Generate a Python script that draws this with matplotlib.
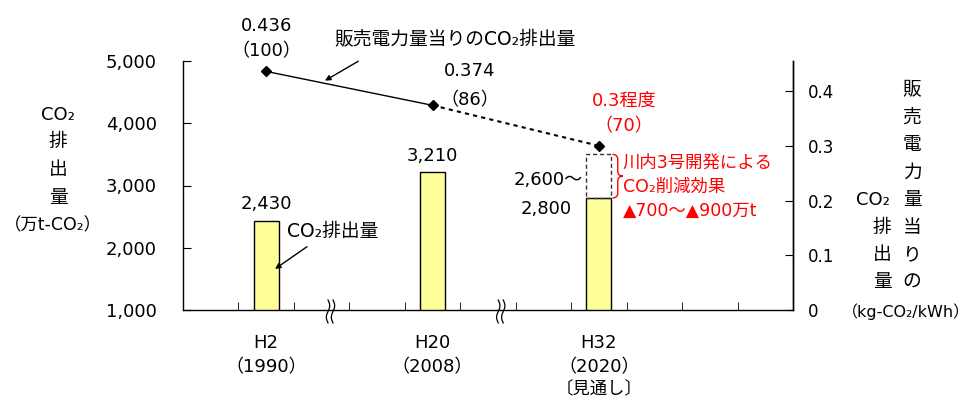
#!/usr/bin/env python3
import numpy as np
import matplotlib
matplotlib.use('Agg')
from matplotlib import pyplot as plt
from matplotlib.path import Path
from matplotlib.patches import PathPatch

# Latin glyphs from DejaVu, kanji/kana fall through to Noto CJK
plt.rcParams['font.family'] = ['DejaVu Sans', 'Noto Sans CJK JP']

# CO2 emissions (10k t) per year slot
slots = [1, 4, 7]
years = ['H2\n（1990）', 'H20\n（2008）', 'H32\n（2020）']
emissions = [2430, 3210, 2800]
proj_low = 2600
cut = [700, 900]  # reduction range from Sendai unit 3

# CO2 per kWh sold
intensity = [0.436, 0.374, 0.3]
index = [100, 86, 70]

left_ticks = [1000, 2000, 3000, 4000, 5000]
right_ticks = [0, 0.1, 0.2, 0.3, 0.4]

W, H = 971, 397


def px(x, y):
    return x / W, 1 - y / H


def main():
    fig = plt.figure(figsize=(W / 100, H / 100), dpi=100)
    ax = fig.add_axes([183 / W, 1 - 310 / H, 610 / W, 249 / H])
    ax2 = ax.twinx()

    ax.set_xlim(-0.5, 10.5)
    ax.set_ylim(1000, 5000)
    ax2.set_ylim(0, 0.455)

    # bars
    bw = 0.45
    ax.bar(slots, emissions, width=bw, color='#FFFF99', edgecolor='black', lw=1, zorder=2)
    ax.bar(slots[2], cut[0], bottom=emissions[2], width=bw, fill=False,
           edgecolor='#333333', ls=(0, (3, 2)), lw=1, zorder=2)

    for s, e in zip(slots[:2], emissions[:2]):
        ax.annotate(f'{e:,}', xy=(s, e), xytext=(0, 12), textcoords='offset points',
                    ha='center', va='center', fontsize=13)
    ax.annotate(f'{proj_low:,}～', xy=(slots[2] - bw / 2, emissions[2]), xytext=(-3, 13),
                textcoords='offset points', ha='right', va='center', fontsize=13)
    ax.annotate(f'{emissions[2]:,}', xy=(slots[2] - bw / 2, emissions[2]), xytext=(-29, -8),
                textcoords='offset points', ha='center', va='center', fontsize=13)

    # red brace next to the dashed box
    x0 = slots[2] + bw / 2 + 0.02
    x1 = x0 + 0.19
    xm = (x0 + x1) / 2
    top, bot = emissions[2] + cut[0], emissions[2]
    mid = (top + bot) / 2
    q = (top - bot) * 0.12
    verts = [(x0, top), (xm, top), (xm, top - q), (xm, mid + q), (xm, mid), (x1, mid),
             (xm, mid), (xm, mid - q), (xm, bot + q), (xm, bot), (x0, bot)]
    codes = [Path.MOVETO, Path.CURVE3, Path.CURVE3, Path.LINETO, Path.CURVE3, Path.CURVE3,
             Path.CURVE3, Path.CURVE3, Path.LINETO, Path.CURVE3, Path.CURVE3]
    ax.add_patch(PathPatch(Path(verts, codes), fill=False, edgecolor='red', lw=1, clip_on=False))

    red_lines = ['川内3号開発による', 'CO₂削減効果', f'▲{cut[0]}～▲{cut[1]}万t']
    for i, t in enumerate(red_lines):
        fig.text(*px(623, 163 + 24 * i), t, color='red', fontsize=12.5, ha='left', va='center')

    # intensity line
    ax2.plot(slots[:2], intensity[:2], color='black', lw=1)
    ax2.plot(slots[1:], intensity[1:], color='black', lw=1.5, ls=(0, (2, 2)))
    ax2.plot(slots, intensity, ls='none', marker='D', ms=5.5, color='black')

    offs = [(0, 45, 20), (37, 34, 5), (25, 45, 20)]
    for i, (s, v, n) in enumerate(zip(slots, intensity, index)):
        dx, dy1, dy2 = offs[i]
        c = 'red' if i == 2 else 'black'
        vt = f'{v}程度' if i == 2 else f'{v:.3f}'
        ax2.annotate(vt, xy=(s, v), xytext=(dx * 0.72, dy1 * 0.72), textcoords='offset points',
                     ha='center', va='center', fontsize=13, color=c)
        ax2.annotate(f'（{n}）', xy=(s, v), xytext=(dx * 0.72, dy2 * 0.72), textcoords='offset points',
                     ha='center', va='center', fontsize=13, color=c)

    # callouts
    fig.text(*px(455, 40), '販売電力量当りのCO₂排出量', fontsize=13.5, ha='center', va='center')
    xa = 2.06
    ya = np.interp(xa, slots[:2], intensity[:2]) + 0.005
    ax2.annotate('', xy=(xa, ya), xytext=(24, 14), textcoords='offset points',
                 arrowprops=dict(arrowstyle='-|>', color='black', lw=1, mutation_scale=8,
                                 shrinkA=0, shrinkB=0))
    fig.text(*px(333, 231), 'CO₂排出量', fontsize=13.5, ha='center', va='center')
    ax.annotate('', xy=(slots[0] + 0.16, 1660), xytext=(23, 16), textcoords='offset points',
                arrowprops=dict(arrowstyle='-|>', color='black', lw=1, mutation_scale=8,
                                shrinkA=0, shrinkB=0))

    # axes styling
    for a in (ax, ax2):
        a.spines['top'].set_visible(False)
    ax2.spines['left'].set_visible(False)
    ax2.spines['bottom'].set_visible(False)
    for a in (ax, ax2):
        for sp in a.spines.values():
            sp.set_linewidth(1)

    ax.set_yticks(left_ticks)
    ax.set_yticklabels([f'{v:,}' for v in left_ticks])
    ax.tick_params(axis='y', direction='in', length=6, pad=19, labelsize=13)
    ax2.set_yticks(right_ticks)
    ax2.set_yticklabels(['0' if v == 0 else f'{v:.1f}' for v in right_ticks])
    ax2.tick_params(axis='y', direction='in', length=6, pad=11, labelsize=12)

    ax.set_xticks(slots)
    ax.set_xticklabels(years, linespacing=1.45)
    ax.set_xticks(np.arange(-0.5, 11, 1), minor=True)
    ax.tick_params(axis='x', which='major', length=0, pad=17, labelsize=13)
    ax.tick_params(axis='x', which='minor', direction='in', length=5.5)
    ax.annotate('〔見通し〕', xy=(slots[2], 0), xycoords=ax.get_xaxis_transform(),
                xytext=(0, -79 * 0.72), textcoords='offset points', ha='center', va='center',
                fontsize=12.5)

    # axis break marks
    t = np.linspace(0, 1, 40)
    for xc in (2.16, 5.23):
        for dxp in (-0.045, 0.045):
            xs = xc + dxp + 0.03 * np.sin(2 * np.pi * t)
            ys = 0.04 - 0.092 * t
            ax.plot(xs, ys, color='black', lw=0.9, transform=ax.get_xaxis_transform(),
                    clip_on=False)

    # left axis title
    fig.text(*px(58, 115), 'CO₂', fontsize=13, ha='center', va='center')
    for i, ch in enumerate('排出量'):
        fig.text(*px(58, 141 + 28 * i), ch, fontsize=13.5, ha='center', va='center')
    fig.text(*px(53, 225), '（万t-CO₂）', fontsize=12.5, ha='center', va='center')

    # right axis title, two vertical columns
    for i, ch in enumerate('販売電力量当りの'):
        fig.text(*px(912, 90 + 27.4 * i), ch, fontsize=13.5, ha='center', va='center')
    fig.text(*px(890, 200), 'CO₂', fontsize=13, ha='right', va='center')
    for i, ch in enumerate('排出量'):
        fig.text(*px(882, 227 + 27.4 * i), ch, fontsize=13.5, ha='center', va='center')
    fig.text(*px(906, 312), '（kg-CO₂/kWh）', fontsize=11.5, ha='center', va='center')

    fig.savefig('out.png', dpi=100, facecolor='white')


if __name__ == '__main__':
    main()
